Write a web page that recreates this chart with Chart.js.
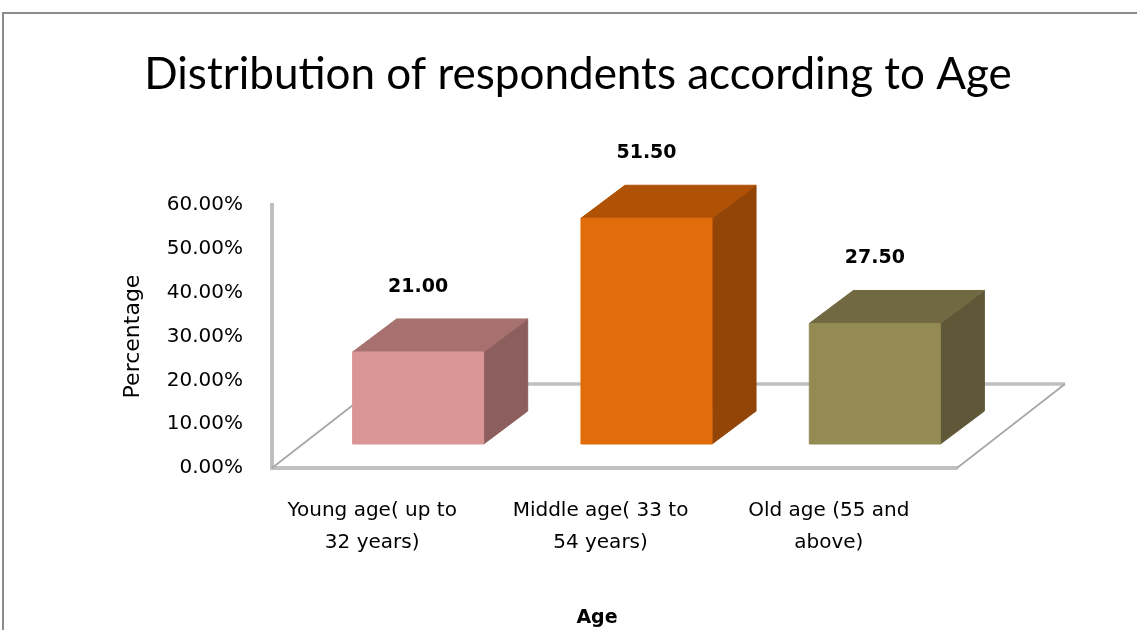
<!DOCTYPE html>
<html>
<head>
<meta charset="utf-8">
<title>Age distribution</title>
<script src="https://cdn.jsdelivr.net/npm/chart.js@4.4.0/dist/chart.umd.min.js"></script>
<style>
  html, body { margin: 0; padding: 0; background: #fff; }
  #wrap { width: 1137px; height: 630px; }
</style>
</head>
<body>
<div id="wrap"><canvas id="ageChart" width="1137" height="630"></canvas></div>
<script>
const chartTitle = "Distribution of respondents according to Age";
const xAxisTitle = "Age";
const categories = [
  ["Young age( up to", "32 years)"],
  ["Middle age( 33 to", "54 years)"],
  ["Old age (55 and", "above)"]
];
const percentValues = [21.00, 51.50, 27.50];
const yMin = 0, yMax = 60, yStep = 10;

// face colours for each column: front, top, right side
const frontColors = ["#d99694", "#e36c0a", "#948a54"];
const topColors = ["#a6716f", "#b05206", "#716941"];
const sideColors = ["#8c5e5d", "#934508", "#5f5838"];

// oblique projection: floor depth, where the column front sits, column depth
const FLOOR_DEPTH = { x: 108, y: -84 };
const FACE_SHIFT = { x: 32, y: -24 };
const COL_DEPTH = { x: 44, y: -33 };

function poly(ctx, pts, fill) {
  ctx.beginPath();
  ctx.moveTo(pts[0][0], pts[0][1]);
  for (let i = 1; i < pts.length; i++) ctx.lineTo(pts[i][0], pts[i][1]);
  ctx.closePath();
  ctx.fillStyle = fill;
  ctx.fill();
  ctx.strokeStyle = fill;
  ctx.lineWidth = 1;
  ctx.stroke();
}

const box3d = {
  id: "box3d",
  beforeDraw(chart) {
    const ctx = chart.ctx;
    ctx.save();
    ctx.fillStyle = "#fff";
    ctx.fillRect(0, 0, chart.width, chart.height);
    // outer frame
    ctx.strokeStyle = "#8c8c8c";
    ctx.lineWidth = 2;
    ctx.beginPath();
    ctx.moveTo(3, chart.height);
    ctx.lineTo(3, 13);
    ctx.lineTo(chart.width, 13);
    ctx.stroke();
    // main title
    ctx.fillStyle = "#000";
    ctx.font = "44px Lato";
    ctx.textAlign = "center";
    ctx.textBaseline = "alphabetic";
    ctx.fillText(chartTitle, 578, 89);
    // category axis title, sits a little left of the floor centre
    ctx.font = "bold 19px 'DejaVu Sans'";
    ctx.textBaseline = "middle";
    ctx.fillText(xAxisTitle, 597, 618);
    ctx.restore();
  },
  beforeDatasetsDraw(chart) {
    const ctx = chart.ctx;
    const { left, right, bottom } = chart.chartArea;
    const bx = FLOOR_DEPTH.x, by = FLOOR_DEPTH.y;
    ctx.save();
    // back edge of the floor
    ctx.strokeStyle = "#c0c0c0";
    ctx.lineWidth = 3.5;
    ctx.beginPath();
    ctx.moveTo(left + bx, bottom + by);
    ctx.lineTo(right + bx, bottom + by);
    ctx.stroke();
    // side edges of the floor
    ctx.strokeStyle = "#a6a6a6";
    ctx.lineWidth = 1.6;
    ctx.beginPath();
    ctx.moveTo(left, bottom);
    ctx.lineTo(left + bx, bottom + by);
    ctx.moveTo(right, bottom);
    ctx.lineTo(right + bx, bottom + by);
    ctx.stroke();
    ctx.restore();
  },
  afterDatasetsDraw(chart) {
    const ctx = chart.ctx;
    const meta = chart.getDatasetMeta(0);
    ctx.save();
    meta.data.forEach((bar, i) => {
      const w = bar.width;
      const x0 = bar.x - w / 2 + FACE_SHIFT.x;
      const x1 = x0 + w;
      const yt = bar.y + FACE_SHIFT.y;
      const yb = bar.base + FACE_SHIFT.y;
      const dx = COL_DEPTH.x, dy = COL_DEPTH.y;
      poly(ctx, [[x1, yt], [x1 + dx, yt + dy], [x1 + dx, yb + dy], [x1, yb]], sideColors[i]);
      poly(ctx, [[x0, yt], [x1, yt], [x1 + dx, yt + dy], [x0 + dx, yt + dy]], topColors[i]);
      poly(ctx, [[x0, yt], [x1, yt], [x1, yb], [x0, yb]], frontColors[i]);

      // value label
      ctx.fillStyle = "#000";
      ctx.font = "bold 19px 'DejaVu Sans'";
      ctx.textAlign = "center";
      ctx.textBaseline = "middle";
      ctx.fillText(percentValues[i].toFixed(2), bar.x + FACE_SHIFT.x, bar.y - 89);
    });
    ctx.restore();
  }
};

Chart.defaults.font.family = "'DejaVu Sans'";
Chart.defaults.color = "#000";

new Chart(document.getElementById("ageChart"), {
  type: "bar",
  data: {
    labels: categories,
    datasets: [{
      label: "Percentage",
      data: percentValues,
      backgroundColor: "rgba(0,0,0,0)",
      borderWidth: 0,
      categoryPercentage: 1,
      barPercentage: 0.574
    }]
  },
  options: {
    responsive: false,
    animation: false,
    events: [],
    layout: { padding: { top: 205, left: 120, right: 180, bottom: 0 } },
    plugins: {
      legend: { display: false },
      title: { display: false },
      tooltip: { enabled: false }
    },
    scales: {
      x: {
        grid: { display: false, drawTicks: false },
        border: { display: true, color: "#c0c0c0", width: 4 },
        ticks: {
          font: { size: 20, lineHeight: 1.6 },
          padding: 27,
          labelOffset: -14,
          maxRotation: 0,
          autoSkip: false
        },
        afterFit(scale) { scale.height = 162; }
      },
      y: {
        min: yMin,
        max: yMax,
        grid: { display: false, drawTicks: false },
        border: { display: true, color: "#c0c0c0", width: 4 },
        ticks: {
          stepSize: yStep,
          font: { size: 20 },
          padding: 29,
          callback: v => v.toFixed(2) + "%"
        },
        title: {
          display: true,
          text: "Percentage",
          font: { size: 22 },
          padding: { top: 0, bottom: 0 }
        },
        afterFit(scale) { scale.width = 152; }
      }
    }
  },
  plugins: [box3d]
});
</script>
</body>
</html>
